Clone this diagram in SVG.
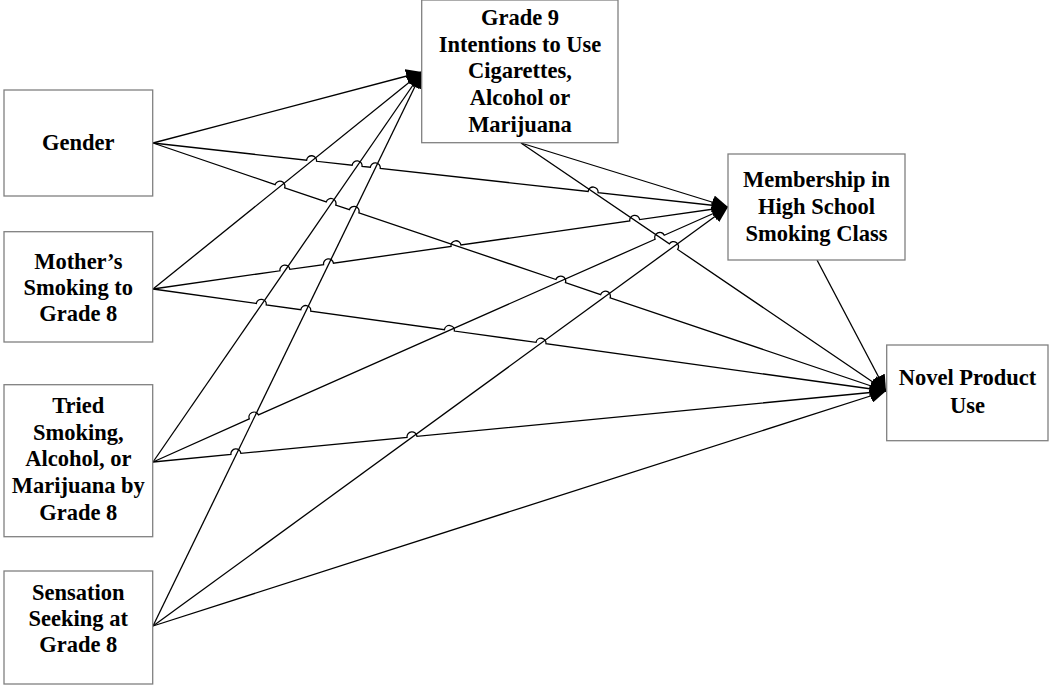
<svg xmlns="http://www.w3.org/2000/svg" width="1050" height="686" viewBox="0 0 1050 686">
<style>
.box{fill:#fff;stroke:#808080;stroke-width:1.3}
.lbl{font-family:"Liberation Serif","Times New Roman",serif;font-weight:bold;font-size:22.5px;fill:#000;text-anchor:middle}
.c{fill:none;stroke:#000;stroke-width:1.3;marker-end:url(#ah)}
</style>
<defs>
<marker id="ah" markerUnits="userSpaceOnUse" markerWidth="17" markerHeight="14" refX="16" refY="7" orient="auto" viewBox="0 0 17 14">
<path d="M0,0 L16,7 L0,14 z" fill="#000"/>
</marker>
</defs>
<rect width="1050" height="686" fill="#fff"/>
<g id="connectors">
<path class="c" d="M153,143 L422,72"/>
<path class="c" d="M153,143 L306.63,160.18 A5,5 0 0 1 316.57,161.28 L352.13,165.24 A5,5 0 0 1 362.07,166.34 L370.33,167.26 A5,5 0 0 1 380.27,168.36 L588.13,191.46 A5,5 0 0 1 598.07,192.56 L728,207"/>
<path class="c" d="M153,143 L275.16,184.62 A5,5 0 0 1 284.64,187.82 L326.26,201.88 A5,5 0 0 1 335.74,205.08 L349.36,209.69 A5,5 0 0 1 358.84,212.89 L555.96,279.50 A5,5 0 0 1 565.44,282.70 L600.66,294.60 A5,5 0 0 1 610.14,297.80 L886,391"/>
<path class="c" d="M153,289 L422,72"/>
<path class="c" d="M153,289 L279.95,270.78 A5,5 0 0 1 289.85,269.37 L323.55,264.58 A5,5 0 0 1 333.45,263.17 L451.05,246.42 A5,5 0 0 1 460.95,245.01 L629.75,220.97 A5,5 0 0 1 639.65,219.56 L728,207"/>
<path class="c" d="M153,289 L256.35,303.50 A5,5 0 0 1 266.25,304.88 L300.85,309.69 A5,5 0 0 1 310.75,311.07 L444.45,329.65 A5,5 0 0 1 454.35,331.03 L536.05,342.38 A5,5 0 0 1 545.95,343.76 L886,391"/>
<path class="c" d="M153,462 L422,72"/>
<path class="c" d="M153,462 L249.33,418.91 A5,5 0 0 1 258.47,414.87 L655.13,239.26 A5,5 0 0 1 664.27,235.22 L728,207"/>
<path class="c" d="M153,462 L230.92,454.37 A5,5 0 0 1 240.88,453.41 L407.02,437.34 A5,5 0 0 1 416.98,436.38 L886,391"/>
<path class="c" d="M153,626 L422,72"/>
<path class="c" d="M153,626 L728,207"/>
<path class="c" d="M153,626 L886,391"/>
<path class="c" d="M521,143 L728,207"/>
<path class="c" d="M521,143 L669.36,243.81 A5,5 0 0 1 677.64,249.43 L886,391"/>
<path class="c" d="M817,260 L886,391"/>
</g>
<g id="node-gender">
<rect class="box" x="4" y="90" width="148.7" height="106"/>
<text class="lbl" x="78.3" y="150">Gender</text>
</g>
<g id="node-mother">
<rect class="box" x="4" y="231.7" width="148.7" height="110.3"/>
<text class="lbl" x="78.3" y="268.5">Mother’s</text>
<text class="lbl" x="78.3" y="295">Smoking to</text>
<text class="lbl" x="78.3" y="321">Grade 8</text>
</g>
<g id="node-tried">
<rect class="box" x="4" y="384.7" width="148.7" height="152"/>
<text class="lbl" x="78.3" y="413">Tried</text>
<text class="lbl" x="78.3" y="439.7">Smoking,</text>
<text class="lbl" x="78.3" y="466.4">Alcohol, or</text>
<text class="lbl" x="78.3" y="493.1">Marijuana by</text>
<text class="lbl" x="78.3" y="519.8">Grade 8</text>
</g>
<g id="node-sensation">
<rect class="box" x="4" y="571" width="148.7" height="113"/>
<text class="lbl" x="78.3" y="599.5">Sensation</text>
<text class="lbl" x="78.3" y="625.5">Seeking at</text>
<text class="lbl" x="78.3" y="652">Grade 8</text>
</g>
<g id="node-intentions">
<rect class="box" x="421.7" y="0" width="196.3" height="142.7"/>
<text class="lbl" x="520" y="25">Grade 9</text>
<text class="lbl" x="520" y="51.7">Intentions to Use</text>
<text class="lbl" x="520" y="78.4">Cigarettes,</text>
<text class="lbl" x="520" y="105.1">Alcohol or</text>
<text class="lbl" x="520" y="131.8">Marijuana</text>
</g>
<g id="node-membership">
<rect class="box" x="728" y="154" width="177" height="106"/>
<text class="lbl" x="816.5" y="186.5">Membership in</text>
<text class="lbl" x="816.5" y="213.5">High School</text>
<text class="lbl" x="816.5" y="240.5">Smoking Class</text>
</g>
<g id="node-novel">
<rect class="box" x="886.7" y="345" width="161.3" height="95.7"/>
<text class="lbl" x="967.5" y="385">Novel Product</text>
<text class="lbl" x="967.5" y="412.5">Use</text>
</g>
</svg>
